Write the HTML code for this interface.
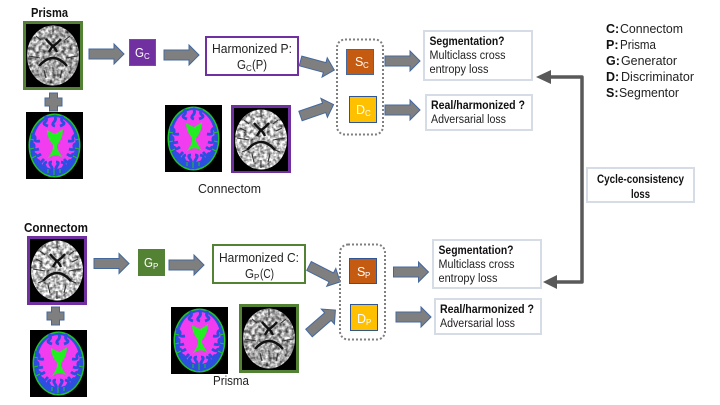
<!DOCTYPE html>
<html>
<head>
<meta charset="utf-8">
<style>
html,body{margin:0;padding:0;background:#fff;width:720px;height:405px;overflow:hidden}
svg{display:block}
text{font-family:"Liberation Sans",sans-serif;font-size:11.500px;fill:#222}
.b{font-weight:bold;fill:#111}
.w{fill:#fff}
.l{font-size:12.500px}
.box{fill:#fff;stroke:#d6dce5;stroke-width:2}
.s{font-size:8px}
</style>
</head>
<body>
<svg width="720" height="405" viewBox="0 0 720 405" xmlns="http://www.w3.org/2000/svg">
<defs>
<filter id="tc" x="0" y="0" width="1" height="1" color-interpolation-filters="sRGB">
<feTurbulence type="fractalNoise" baseFrequency=".3" numOctaves="2" seed="4"/>
<feColorMatrix values="1.500 0 0 0 0 1.500 0 0 0 0 1.500 0 0 0 0 0 0 0 0 1"/>
<feComposite in2="SourceGraphic" operator="in"/>
</filter>
<filter id="tp" x="0" y="0" width="1" height="1" color-interpolation-filters="sRGB">
<feTurbulence type="fractalNoise" baseFrequency=".3" numOctaves="2" seed="9"/>
<feColorMatrix values="1.300 0 0 0 0 1.300 0 0 0 0 1.300 0 0 0 0 0 0 0 0 1"/>
<feComposite in2="SourceGraphic" operator="in"/>
</filter>
<polygon id="a" points="0,-5 25,-5 25,-10 35,0 25,10 25,5 0,5" fill="#7f7f7f" stroke="#44689e" stroke-width="1"/>
<polygon id="plus" points="-4,-9 4,-9 4,-4 8.500,-4 8.500,4 4,4 4,9 -4,9 -4,4 -8.500,4 -8.500,-4 -4,-4" fill="#7f7f7f" stroke="#44689e" stroke-width="1"/>
<g id="seg">
<rect width="57" height="67" fill="#000"/>
<ellipse cx="28.500" cy="33.500" rx="26" ry="32" fill="#22c422"/>
<ellipse cx="28.500" cy="33.500" rx="24.500" ry="30.500" fill="#2b4fe0"/>
<ellipse cx="28.500" cy="31" rx="21" ry="26" fill="#f23cf0"/>
<path d="M5 22Q10 24 9 27T14 29M4 32Q9 31 8 35T13 37M5 43Q9 41 10 43T15 42M8 50Q13 47 13 50T18 47M51 22Q46 24 47 27T42 29M52 32Q47 31 48 35T43 37M51 43Q47 41 46 43T41 42M48 50Q43 47 43 50T38 47M19 4Q22 8 19 10T22 14M28 3Q31 7 28 10T29 14M37 4Q34 8 37 10T34 14M18 61Q21 57 19 54T21 50M25 64Q28 58 25 54T26 50M31 64Q28 58 31 54T30 50M39 60Q36 57 38 54T35 50" stroke="#2b4fe0" stroke-width="2.800" fill="none"/>
<path d="M4 27L8 28M4 37L8 36M6 46L10 44M53 27L49 28M53 37L49 36M51 46L47 44M22 61L22 57M28 63L28 57M34 61L34 57" stroke="#22c422" stroke-width="1" fill="none"/>
<path d="M21 18Q25 20 29 22Q33 20 37 17Q37 26 31 33L31 36Q34 42 37 46Q29 40 21 47Q26 41 27 36L27 33Q21 26 21 18Z" fill="#22ee22"/>
</g>
<g id="cb">
<rect width="54" height="63" fill="#000"/>
<ellipse cx="27" cy="31.500" rx="26" ry="30" fill="#fff" filter="url(#tc)"/>
<g fill="none" stroke="#111">
<path d="M20 15Q24 20 27 22Q31 20 35 15M23 28Q25 24 27 22Q29 24 31 28M13 42Q27 26 41 42" stroke-width="2.400"/>
<path d="M3 30L15 32M51 30L39 32M27 2L27 9M27 52L27 60M6 20L12 23M48 20L42 23M18 46L20 54M36 46L34 54M10 12L15 16M44 12L39 16M8 44L13 42M46 44L41 42" stroke-width="1.100" stroke="#333"/>
</g>
</g>
<g id="pb">
<rect width="54" height="63" fill="#000"/>
<ellipse cx="27" cy="31.500" rx="26" ry="30" fill="#fff" filter="url(#tp)"/>
<g fill="none" stroke="#111">
<path d="M20 15Q24 20 27 22Q31 20 35 15M23 28Q25 24 27 22Q29 24 31 28M13 42Q27 26 41 42" stroke-width="2.400"/>
<path d="M3 32L14 34M51 32L40 34M27 2L27 8M18 46L20 54M36 46L34 54M10 12L15 16M44 12L39 16" stroke-width="1.100" stroke="#333"/>
</g>
</g>
</defs>

<!-- Top row -->
<text x="31" y="17" class="b l" textLength="37" lengthAdjust="spacingAndGlyphs">Prisma</text>
<rect x="24.500" y="22.500" width="57" height="66" fill="#000" stroke="#548235" stroke-width="3"/>
<use href="#pb" x="26" y="24"/>
<use href="#plus" transform="translate(53.500,102)"/>
<use href="#seg" x="26" y="112"/>
<use href="#a" transform="translate(89,54)"/>
<rect x="129.500" y="39.500" width="26" height="26" fill="#7030a0" stroke="#44689e"/>
<text x="135" y="57" class="w l" textLength="9" lengthAdjust="spacingAndGlyphs">G</text>
<text x="144" y="59" class="w s">C</text>
<use href="#a" transform="translate(164,55)"/>
<rect x="206" y="37" width="92" height="38" fill="#fff" stroke="#7030a0" stroke-width="2"/>
<text x="212" y="53" class="l" textLength="80" lengthAdjust="spacingAndGlyphs">Harmonized P:</text>
<text x="237" y="69" class="l" textLength="9" lengthAdjust="spacingAndGlyphs">G</text><text x="246" y="71" class="s">C</text><text x="252" y="69" class="l" textLength="15" lengthAdjust="spacingAndGlyphs">(P)</text>
<use href="#a" transform="translate(300.500,61) rotate(15)"/>
<use href="#a" transform="translate(300.500,116) rotate(-19)"/>
<rect x="337" y="39.500" width="46" height="95" rx="8" fill="none" stroke="#7f7f7f" stroke-width="2" stroke-dasharray="2 2"/>
<rect x="346.500" y="49.500" width="27" height="25" fill="#c55a11" stroke="#44689e"/>
<text x="355" y="66" class="w l">S</text><text x="363" y="68" class="w s">C</text>
<rect x="349.500" y="96.500" width="27" height="26" fill="#ffc000" stroke="#2f5597"/>
<text x="356" y="114" class="w l">D</text><text x="365" y="116" class="w s">C</text>
<use href="#seg" x="165" y="105"/>
<rect x="232.500" y="106.500" width="57" height="65" fill="#000" stroke="#7030a0" stroke-width="3"/>
<use href="#cb" x="234" y="108"/>
<text x="198" y="193" class="l" textLength="63" lengthAdjust="spacingAndGlyphs">Connectom</text>
<use href="#a" transform="translate(385,61)"/>
<use href="#a" transform="translate(385,110)"/>

<rect x="424" y="31" width="108" height="49" class="box"/>
<text x="429.500" y="45" class="b" textLength="75" lengthAdjust="spacingAndGlyphs">Segmentation?</text>
<text x="429.500" y="59" textLength="76" lengthAdjust="spacingAndGlyphs">Multiclass cross</text>
<text x="429.500" y="73" textLength="59" lengthAdjust="spacingAndGlyphs">entropy loss</text>
<rect x="426" y="95" width="106" height="35" class="box"/>
<text x="431" y="109" class="b" textLength="94" lengthAdjust="spacingAndGlyphs">Real/harmonized ?</text>
<text x="431" y="123" textLength="75" lengthAdjust="spacingAndGlyphs">Adversarial loss</text>

<!-- Legend -->
<text x="606" y="33" class="b l">C:</text><text x="620" y="33" class="l" textLength="63" lengthAdjust="spacingAndGlyphs">Connectom</text>
<text x="606" y="49" class="b l">P:</text><text x="620" y="49" class="l" textLength="36" lengthAdjust="spacingAndGlyphs">Prisma</text>
<text x="606" y="65" class="b l">G:</text><text x="621" y="65" class="l" textLength="56" lengthAdjust="spacingAndGlyphs">Generator</text>
<text x="606" y="81" class="b l">D:</text><text x="621" y="81" class="l" textLength="73" lengthAdjust="spacingAndGlyphs">Discriminator</text>
<text x="606" y="97" class="b l">S:</text><text x="619" y="97" class="l" textLength="60" lengthAdjust="spacingAndGlyphs">Segmentor</text>

<!-- Cycle -->
<rect x="587" y="168" width="107" height="34" class="box"/>
<text x="597" y="183" class="b" textLength="87" lengthAdjust="spacingAndGlyphs">Cycle-consistency</text>
<text x="631" y="198" class="b" textLength="19" lengthAdjust="spacingAndGlyphs">loss</text>
<path d="M550 77H582V282H556" fill="none" stroke="#595959" stroke-width="3.500" stroke-linejoin="round"/>
<polygon points="536,77 551,70 551,84" fill="#595959"/>
<polygon points="543,282 557,275 557,289" fill="#595959"/>

<!-- Bottom row -->
<text x="24" y="232" class="b l" textLength="64" lengthAdjust="spacingAndGlyphs">Connectom</text>
<rect x="28.500" y="237.500" width="57" height="66" fill="#000" stroke="#7030a0" stroke-width="3"/>
<use href="#cb" x="30" y="239"/>
<use href="#plus" transform="translate(55.500,316)"/>
<use href="#seg" x="30" y="330"/>
<use href="#a" transform="translate(94,263.500)"/>
<rect x="138" y="249" width="27" height="27" fill="#548235"/>
<text x="144" y="267" class="w l" textLength="9" lengthAdjust="spacingAndGlyphs">G</text>
<text x="153" y="269" class="w s">P</text>
<use href="#a" transform="translate(169,265)"/>
<rect x="213" y="245" width="92" height="38" fill="#fff" stroke="#548235" stroke-width="2"/>
<text x="219" y="262" class="l" textLength="80" lengthAdjust="spacingAndGlyphs">Harmonized C:</text>
<text x="245" y="278" class="l" textLength="9" lengthAdjust="spacingAndGlyphs">G</text><text x="254" y="280" class="s">P</text><text x="260" y="278" class="l" textLength="14" lengthAdjust="spacingAndGlyphs">(C)</text>
<use href="#a" transform="translate(309,266) rotate(27)"/>
<use href="#a" transform="translate(309,333) rotate(-41)"/>
<rect x="340" y="244.500" width="45" height="95" rx="8" fill="none" stroke="#7f7f7f" stroke-width="2" stroke-dasharray="2 2"/>
<rect x="349.500" y="258.500" width="27" height="25" fill="#c55a11" stroke="#2f5597"/>
<text x="357" y="276" class="w l">S</text><text x="365" y="278" class="w s">P</text>
<rect x="350.500" y="304.500" width="27" height="26" fill="#ffc000" stroke="#2f5597"/>
<text x="357" y="323" class="w l">D</text><text x="366" y="325" class="w s">P</text>
<use href="#seg" x="171" y="307"/>
<rect x="240.500" y="305.500" width="57" height="66" fill="#000" stroke="#548235" stroke-width="3"/>
<use href="#pb" x="242" y="307"/>
<text x="213" y="385" class="l" textLength="36" lengthAdjust="spacingAndGlyphs">Prisma</text>
<use href="#a" transform="translate(393.500,272)"/>
<use href="#a" transform="translate(396,317)"/>

<rect x="433" y="240" width="108" height="48" class="box"/>
<text x="438.500" y="254" class="b" textLength="75" lengthAdjust="spacingAndGlyphs">Segmentation?</text>
<text x="438.500" y="268" textLength="76" lengthAdjust="spacingAndGlyphs">Multiclass cross</text>
<text x="438.500" y="282" textLength="59" lengthAdjust="spacingAndGlyphs">entropy loss</text>
<rect x="435" y="299" width="106" height="35" class="box"/>
<text x="440" y="313" class="b" textLength="94" lengthAdjust="spacingAndGlyphs">Real/harmonized ?</text>
<text x="440" y="327" textLength="75" lengthAdjust="spacingAndGlyphs">Adversarial loss</text>
</svg>
</body>
</html>
